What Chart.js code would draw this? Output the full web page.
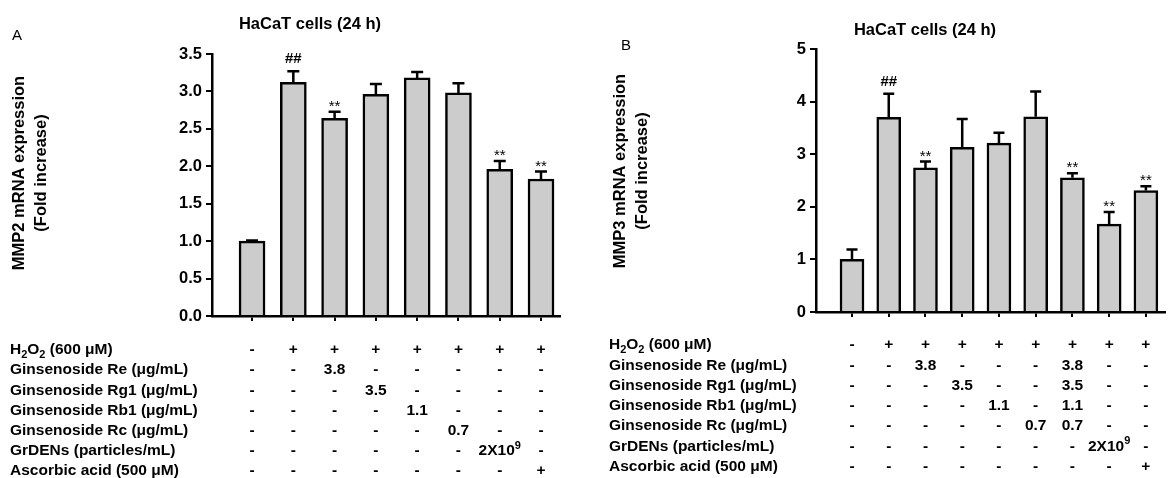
<!DOCTYPE html>
<html>
<head>
<meta charset="utf-8">
<script src="https://cdn.jsdelivr.net/npm/chart.js@4"></script>
<style>
  html, body { margin: 0; padding: 0; background: #fff; }
  #wrap { position: relative; width: 1171px; height: 478px; overflow: hidden; }
  canvas { position: absolute; top: 0; }
</style>
</head>
<body>
<div id="wrap">
  <canvas id="chartA" width="580" height="478" style="left:0"></canvas>
  <canvas id="chartB" width="591" height="478" style="left:580px"></canvas>
</div>
<script>
// Panel A - MMP2
const groupsA = [1, 2, 3, 4, 5, 6, 7, 8];
const mmp2Mean = [1.00, 3.12, 2.64, 2.96, 3.18, 2.98, 1.96, 1.83];
const mmp2Err = [0.01, 0.15, 0.09, 0.14, 0.08, 0.13, 0.11, 0.10];
const mmp2Marks = ['', '##', '**', '', '', '', '**', '**'];
const yTicksA = [0, 0.5, 1.0, 1.5, 2.0, 2.5, 3.0, 3.5];

// Panel B - MMP3
const groupsB = [1, 2, 3, 4, 5, 6, 7, 8, 9];
const mmp3Mean = [1.00, 3.70, 2.74, 3.13, 3.21, 3.71, 2.55, 1.67, 2.31];
const mmp3Err = [0.19, 0.45, 0.12, 0.54, 0.20, 0.48, 0.09, 0.23, 0.08];
const mmp3Marks = ['', '##', '**', '', '', '', '**', '**', '**'];
const yTicksB = [0, 1, 2, 3, 4, 5];

// Treatment table
const rowLabels = [
    'H₂O₂ (600 μM)',
    'Ginsenoside Re (μg/mL)',
    'Ginsenoside Rg1 (μg/mL)',
    'Ginsenoside Rb1 (μg/mL)',
    'Ginsenoside Rc (μg/mL)',
    'GrDENs (particles/mL)',
    'Ascorbic acid (500 μM)'
];
const tableA = [
    ['-', '+', '+', '+', '+', '+', '+', '+'],
    ['-', '-', '3.8', '-', '-', '-', '-', '-'],
    ['-', '-', '-', '3.5', '-', '-', '-', '-'],
    ['-', '-', '-', '-', '1.1', '-', '-', '-'],
    ['-', '-', '-', '-', '-', '0.7', '-', '-'],
    ['-', '-', '-', '-', '-', '-', '2X10⁹', '-'],
    ['-', '-', '-', '-', '-', '-', '-', '+']
];
const tableB = [
    ['-', '+', '+', '+', '+', '+', '+', '+', '+'],
    ['-', '-', '3.8', '-', '-', '-', '3.8', '-', '-'],
    ['-', '-', '-', '3.5', '-', '-', '3.5', '-', '-'],
    ['-', '-', '-', '-', '1.1', '-', '1.1', '-', '-'],
    ['-', '-', '-', '-', '-', '0.7', '0.7', '-', '-'],
    ['-', '-', '-', '-', '-', '-', '-', '2X10⁹', '-'],
    ['-', '-', '-', '-', '-', '-', '-', '-', '+']
];

const FONT = 'Arial, "Liberation Sans", sans-serif';
const SUB = { '₂': '2' };
const SUP = { '⁹': '9' };

// draws text with sub/superscript digits at a readable size
function drawRich(ctx, str, x, y, align, size) {
    const big = 'bold ' + size + 'px ' + FONT;
    const small = 'bold ' + Math.round(size * 0.7) + 'px ' + FONT;
    const parts = [...str].map(ch => {
        if (SUB[ch]) return { t: SUB[ch], f: small, dy: size * 0.3 };
        if (SUP[ch]) return { t: SUP[ch], f: small, dy: -size * 0.35 };
        return { t: ch, f: big, dy: 0 };
    });
    let total = 0;
    parts.forEach(p => { ctx.font = p.f; p.w = ctx.measureText(p.t).width; total += p.w; });
    let cx = align === 'center' ? x - total / 2 : x;
    ctx.textAlign = 'left';
    parts.forEach(p => {
        ctx.font = p.f;
        ctx.fillText(p.t, cx, y + p.dy);
        cx += p.w;
    });
}

// error bars, significance marks, titles and the treatment table
const decorations = {
    id: 'decorations',
    afterDraw(chart, args, o) {
        const ctx = chart.ctx;
        const x = chart.scales.x;
        const y = chart.scales.y;
        ctx.save();
        ctx.fillStyle = '#000';
        ctx.strokeStyle = '#000';
        ctx.lineWidth = 2.5;

        o.groups.forEach((g, i) => {
            const px = x.getPixelForValue(g);
            const top = y.getPixelForValue(o.mean[i]);
            const cap = y.getPixelForValue(o.mean[i] + o.err[i]);
            ctx.beginPath();
            ctx.moveTo(px, top);
            ctx.lineTo(px, cap);
            ctx.moveTo(px - o.capHalf, cap);
            ctx.lineTo(px + o.capHalf, cap);
            ctx.stroke();

            const m = o.marks[i];
            if (m) {
                ctx.textAlign = 'center';
                ctx.textBaseline = 'alphabetic';
                if (m === '##') {
                    ctx.font = 'bold 15px ' + FONT;
                    ctx.fillText(m, px, cap - 8);
                } else {
                    ctx.font = '15px ' + FONT;
                    ctx.fillText(m, px, cap - 1);
                }
            }
        });

        // panel letter
        ctx.font = '15px ' + FONT;
        ctx.textAlign = 'center';
        ctx.textBaseline = 'middle';
        ctx.fillText(o.letter, o.letterX, o.letterY);

        // title
        ctx.font = 'bold 16.5px ' + FONT;
        ctx.fillText('HaCaT cells (24 h)', o.titleX, o.titleY);

        // y axis title
        ctx.save();
        ctx.translate(o.yTitleX, o.yTitleY);
        ctx.rotate(-Math.PI / 2);
        ctx.font = 'bold 16.5px ' + FONT;
        ctx.fillText(o.yTitle[0], 0, 0);
        ctx.fillText(o.yTitle[1], 0, 22);
        ctx.restore();

        // table
        rowLabels.forEach((label, r) => {
            const ry = o.rowTop + r * o.rowStep;
            drawRich(ctx, label, o.labelX, ry, 'left', 15.5);
            o.table[r].forEach((cell, c) => {
                drawRich(ctx, cell, x.getPixelForValue(o.groups[c]), ry, 'center', 15.5);
            });
        });
        ctx.restore();
    }
};

function makePanel(id, p) {
    return new Chart(document.getElementById(id), {
        type: 'bar',
        data: {
            datasets: [{
                data: p.groups.map((g, i) => ({ x: g, y: p.mean[i] })),
                backgroundColor: '#cccccc',
                borderColor: '#000',
                borderWidth: 2.5,
                barThickness: p.barWidth
            }]
        },
        options: {
            responsive: false,
            animation: false,
            devicePixelRatio: 1,
            layout: { padding: { top: p.padTop, right: p.padRight, bottom: p.padBottom, left: 0 } },
            plugins: {
                legend: { display: false },
                tooltip: { enabled: false },
                decorations: p.deco
            },
            scales: {
                x: {
                    type: 'linear',
                    offset: false,
                    min: p.xMin,
                    max: p.xMax,
                    afterBuildTicks: s => { s.ticks = p.groups.map(v => ({ value: v })); },
                    afterFit: s => { s.height = 10; },
                    ticks: { display: false },
                    grid: { offset: false, drawOnChartArea: false, tickLength: 5, color: '#000', lineWidth: 2 },
                    border: { color: '#000', width: 2.5 }
                },
                y: {
                    min: 0,
                    max: p.yTicks[p.yTicks.length - 1],
                    afterBuildTicks: s => { s.ticks = p.yTicks.map(v => ({ value: v })); },
                    afterFit: s => { s.width = p.axisX; },
                    ticks: {
                        color: '#000',
                        padding: 4,
                        font: { family: FONT, size: 16.5, weight: 'bold' },
                        callback: p.fmt
                    },
                    grid: { drawOnChartArea: false, tickLength: 6, color: '#000', lineWidth: 2 },
                    border: { color: '#000', width: 2.5 }
                }
            }
        },
        plugins: [decorations]
    });
}

makePanel('chartA', {
    groups: groupsA, mean: mmp2Mean, yTicks: yTicksA,
    fmt: v => Number(v).toFixed(1),
    barWidth: 26, xMin: 0.03, xMax: 8.46,
    axisX: 212, padTop: 54, padRight: 20, padBottom: 152,
    deco: {
        groups: groupsA, mean: mmp2Mean, err: mmp2Err, marks: mmp2Marks, capHalf: 6,
        letter: 'A', letterX: 17, letterY: 36,
        titleX: 310, titleY: 24,
        yTitle: ['MMP2 mRNA expression', '(Fold increase)'], yTitleX: 19, yTitleY: 173,
        table: tableA, labelX: 10, rowTop: 350, rowStep: 20.2
    }
});

makePanel('chartB', {
    groups: groupsB, mean: mmp3Mean, yTicks: yTicksB,
    fmt: v => String(v),
    barWidth: 24, xMin: 0.02, xMax: 9.52,
    axisX: 236, padTop: 49, padRight: 6, padBottom: 156,
    deco: {
        groups: groupsB, mean: mmp3Mean, err: mmp3Err, marks: mmp3Marks, capHalf: 5.5,
        letter: 'B', letterX: 46, letterY: 46,
        titleX: 345, titleY: 30,
        yTitle: ['MMP3 mRNA expression', '(Fold increase)'], yTitleX: 40, yTitleY: 171,
        table: tableB, labelX: 29, rowTop: 345, rowStep: 20.3
    }
});
</script>
</body>
</html>
